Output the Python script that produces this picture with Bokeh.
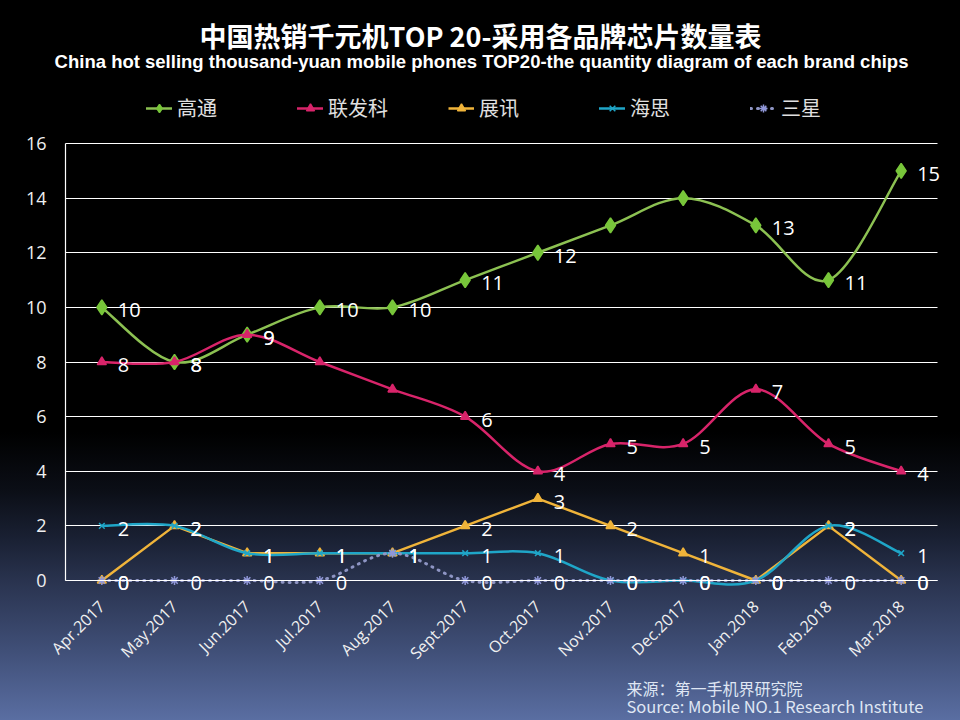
import math
from bokeh.plotting import figure
from bokeh.models import (Range1d, FixedTicker, Legend, LegendItem, Label,
                          ColumnDataSource, GlobalInlineStyleSheet)
from bokeh.embed import file_html
from bokeh.resources import INLINE
from bokeh.core.properties import value

# ---------------- data ----------------
months = ["Apr.2017", "May.2017", "Jun.2017", "Jul.2017", "Aug.2017", "Sept.2017",
          "Oct.2017", "Nov.2017", "Dec.2017", "Jan.2018", "Feb.2018", "Mar.2018"]
qualcomm = [10, 8, 9, 10, 10, 11, 12, 13, 14, 13, 11, 15]      # 高通
mediatek = [8, 8, 9, 8, 7, 6, 4, 5, 5, 7, 5, 4]                # 联发科
spreadtrum = [0, 2, 1, 1, 1, 2, 3, 2, 1, 0, 2, 0]              # 展讯
hisilicon = [2, 2, 1, 1, 1, 1, 1, 0, 0, 0, 2, 1]               # 海思
samsung = [0, 0, 0, 0, 1, 0, 0, 0, 0, 0, 0, 0]                 # 三星
series_names = ["高通", "联发科", "展讯", "海思", "三星"]
y_ticks = [0, 2, 4, 6, 8, 10, 12, 14, 16]
# months whose value label is not shown in the original chart
qualcomm_unlabelled = ["Nov.2017", "Dec.2017"]
mediatek_unlabelled = ["Jul.2017", "Aug.2017"]

title_text = "中国热销千元机TOP 20-采用各品牌芯片数量表"
subtitle_text = "China hot selling thousand-yuan mobile phones TOP20-the quantity diagram of each brand chips"
source_cn = "来源：第一手机界研究院"
source_en = "Source: Mobile NO.1 Research Institute"

xs = list(range(len(months)))

# ---------------- figure ----------------
# the frame covers the whole canvas; axes are pinned inside it
p = figure(width=960, height=720, x_range=Range1d(-1.3945, 11.8165),
           y_range=Range1d(-5.126, 21.236),
           output_backend="svg", toolbar_location=None, title=None,
           min_border_left=0, min_border_right=0, min_border_top=0, min_border_bottom=0)
p.background_fill_alpha = 0
p.border_fill_alpha = 0
p.outline_line_color = None
p.stylesheets = [GlobalInlineStyleSheet(css=(
    "html{height:100%;background:linear-gradient(180deg,#000000 0%,#000000 60%,"
    "#0b0e16 68%,#1a2134 75%,#2a3450 81%,#3f4e76 90%,#5a6ea2 100%);}"
    "body{background:transparent;}"))]

# axes
p.yaxis.ticker = FixedTicker(ticks=y_ticks)
p.xaxis.ticker = FixedTicker(ticks=xs)
p.xaxis.major_label_overrides = {i: m for i, m in enumerate(months)}
p.xaxis.major_label_orientation = math.pi / 4
p.xaxis.fixed_location = 0
p.xaxis.bounds = (-0.5, 11.5)
p.yaxis.fixed_location = -0.5
p.yaxis.bounds = (0, 16)
for ax in (p.xaxis, p.yaxis):
    ax.axis_line_color = "white"
    ax.axis_line_width = 1.2
    ax.major_tick_line_color = None
    ax.minor_tick_line_color = None
    ax.major_label_text_color = "#f0f0f0"
    ax.major_label_text_font = "Open Sans"
p.yaxis.major_label_text_font_size = "18px"
p.yaxis.major_label_standoff = 13
p.xaxis.major_label_text_font_size = "16px"
p.xaxis.major_label_standoff = 17
p.xgrid.grid_line_color = None
grid = p.ygrid[0]
grid.grid_line_color = "white"
grid.grid_line_width = 1.2
if "cross_bounds" in grid.properties():
    grid.cross_bounds = (-0.5, 11.5)
else:
    grid.grid_line_color = None
    p.segment(x0=[-0.5] * len(y_ticks), x1=[11.5] * len(y_ticks), y0=y_ticks, y1=y_ticks,
              line_color="white", line_width=1.2, level="underlay")


def smooth(xv, yv):
    n = len(xv)
    d = dict(x0=[], y0=[], x1=[], y1=[], cx0=[], cy0=[], cx1=[], cy1=[])
    for i in range(n - 1):
        a = i - 1 if i > 0 else i
        b = i + 2 if i + 2 < n else i + 1
        d["x0"].append(xv[i]); d["y0"].append(yv[i])
        d["x1"].append(xv[i + 1]); d["y1"].append(yv[i + 1])
        d["cx0"].append(xv[i] + (xv[i + 1] - xv[a]) / 6)
        d["cy0"].append(yv[i] + (yv[i + 1] - yv[a]) / 6)
        d["cx1"].append(xv[i + 1] - (xv[b] - xv[i]) / 6)
        d["cy1"].append(yv[i + 1] - (yv[b] - yv[i]) / 6)
    return ColumnDataSource(d)


specs = [
    (qualcomm, qualcomm_unlabelled, "#8cc152", "#78c63a", "diamond", 15, True, None, 2.5),
    (mediatek, mediatek_unlabelled, "#d8246a", "#d8246a", "triangle", 9, True, None, 2.5),
    (spreadtrum, [], "#f0b43a", "#f0b43a", "triangle", 9, False, None, 2.5),
    (hisilicon, [], "#1fa6c8", "#1fa6c8", "x", 8, True, None, 2.5),
    (samsung, [], "#8e95c4", "#9097d8", "asterisk", 9, True, "1 6", 3),
]

items = []
for (vals, _hid, lc, mc, mk, ms, sm, dash, lw), name in zip(specs, series_names):
    if sm:
        src = smooth(xs, vals)
        lr = p.bezier(x0="x0", y0="y0", x1="x1", y1="y1", cx0="cx0", cy0="cy0",
                      cx1="cx1", cy1="cy1", source=src, line_color=lc, line_width=lw,
                      line_cap="round", line_dash=dash if dash else "solid")
    else:
        lr = p.line(xs, vals, line_color=lc, line_width=lw)
    sr = p.scatter(xs, vals, marker=mk, size=ms, fill_color=mc, line_color=mc, line_width=1.5)
    items.append(LegendItem(label=name, renderers=[lr, sr]))

for (vals, hid, *_rest) in specs:
    labels = ["" if m in hid else str(v) for m, v in zip(months, vals)]
    p.text(xs, vals, text=labels, x_offset=16, y_offset=3,
           text_align="left", text_baseline="middle", text_color="white",
           text_font=value("Open Sans"), text_font_size="20px")

legend = Legend(items=items, orientation="horizontal", location=(146, 598),
                background_fill_alpha=0, border_line_color=None,
                label_text_color="#e0e0e0", label_text_font="Noto Sans CJK SC",
                label_text_font_size="20px", glyph_width=26, glyph_height=20,
                label_standoff=5, label_width=60, spacing=60, padding=4, margin=0)
p.add_layout(legend)

# titles
p.add_layout(Label(x=5.211, y=19.954, text=title_text, text_color="white",
                   text_font="Noto Sans CJK SC", text_font_style="bold", text_font_size="27px",
                   text_baseline="middle", text_align="center"))
p.add_layout(Label(x=5.225, y=19.002, text=subtitle_text, text_color="white",
                   text_font="Liberation Sans", text_font_style="bold", text_font_size="18.5px",
                   text_baseline="middle", text_align="center"))

# source note
p.add_layout(Label(x=7.22, y=-3.918, text=source_cn, text_color="#dfe6f3",
                   text_font="Noto Sans CJK SC", text_font_size="16px",
                   text_baseline="middle", text_align="left"))
p.add_layout(Label(x=7.22, y=-4.613, text=source_en, text_color="#dfe6f3",
                   text_font="Noto Sans CJK SC", text_font_size="16.5px",
                   text_baseline="middle", text_align="left"))

open("out.html", "w").write(file_html(p, INLINE))
